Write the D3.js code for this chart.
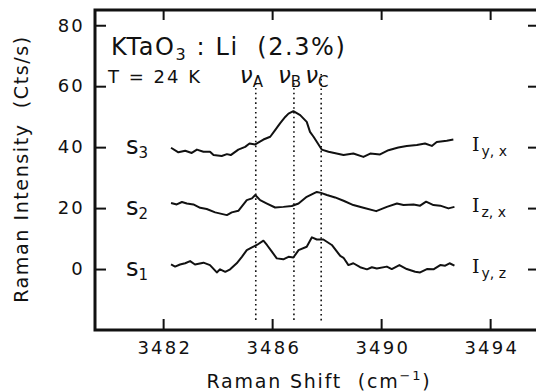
<!DOCTYPE html>
<html>
<head>
<meta charset="utf-8">
<script src="https://cdn.jsdelivr.net/npm/d3@7"></script>
<style>
  body { margin: 0; background: #fff; }
  svg text { font-family: 'DejaVu Sans', sans-serif; fill: #111; }
</style>
</head>
<body>
<div id="chart"></div>
<script>
// Raman shift (cm^-1) of each sample point
const s3Shift = [3482.29, 3482.56, 3482.81, 3483.05, 3483.24, 3483.48, 3483.72, 3483.85, 3484.15, 3484.34, 3484.48, 3484.76, 3485.01, 3485.17, 3485.38, 3485.68, 3485.93, 3486.11, 3486.29, 3486.48, 3486.6, 3486.78, 3487.03, 3487.27, 3487.39, 3487.52, 3487.82, 3488.07, 3488.62, 3488.98, 3489.35, 3489.6, 3489.96, 3490.27, 3490.63, 3490.94, 3491.31, 3491.61, 3491.86, 3492.04, 3492.41, 3492.65];
const s3Counts = [39.8, 38.3, 38.8, 38.1, 39.2, 38.5, 38.5, 37.4, 37.1, 37.7, 37.4, 39.2, 40.1, 41.2, 40.9, 42.5, 43.4, 45.6, 47.8, 49.9, 51.0, 51.8, 50.5, 48.3, 45.0, 43.4, 39.2, 38.5, 37.4, 37.9, 36.8, 37.9, 37.6, 39.0, 39.9, 40.4, 40.7, 41.2, 40.4, 41.7, 42.1, 42.5];

const s2Shift = [3482.29, 3482.5, 3482.69, 3482.87, 3483.11, 3483.36, 3483.6, 3483.91, 3484.34, 3484.52, 3484.76, 3485.07, 3485.26, 3485.38, 3485.56, 3485.81, 3486.11, 3486.41, 3486.72, 3486.97, 3487.27, 3487.64, 3487.79, 3488.01, 3488.31, 3488.62, 3488.98, 3489.35, 3489.82, 3490.21, 3490.58, 3490.82, 3491.19, 3491.43, 3491.65, 3491.92, 3492.17, 3492.47, 3492.69];
const s2Counts = [21.7, 21.2, 22.0, 21.5, 21.2, 20.1, 19.7, 18.6, 17.7, 18.6, 19.1, 22.6, 23.2, 24.3, 22.6, 21.5, 20.2, 20.4, 20.7, 21.5, 23.7, 25.3, 25.0, 24.3, 23.5, 22.4, 21.0, 20.1, 19.0, 20.4, 21.5, 21.0, 21.2, 20.8, 22.1, 21.0, 20.8, 19.9, 20.4];

const s1Shift = [3482.29, 3482.44, 3482.62, 3482.81, 3482.99, 3483.17, 3483.48, 3483.72, 3483.97, 3484.09, 3484.28, 3484.46, 3484.7, 3484.89, 3485.07, 3485.26, 3485.44, 3485.68, 3485.81, 3485.99, 3486.17, 3486.41, 3486.6, 3486.78, 3486.97, 3487.27, 3487.46, 3487.64, 3487.88, 3488.19, 3488.5, 3488.62, 3488.8, 3488.98, 3489.23, 3489.48, 3489.66, 3489.84, 3490.21, 3490.39, 3490.67, 3490.94, 3491.25, 3491.43, 3491.68, 3491.92, 3492.17, 3492.35, 3492.51, 3492.69];
const s1Counts = [1.5, 0.8, 1.5, 1.9, 2.6, 1.5, 2.1, 1.3, -1.1, -0.1, -0.9, -0.1, 1.9, 4.0, 6.2, 7.1, 7.9, 9.3, 7.9, 5.7, 3.5, 3.2, 4.0, 3.8, 6.2, 7.3, 10.4, 9.7, 9.7, 7.9, 4.3, 3.7, 1.3, 1.9, 0.6, -0.1, 0.6, 0.2, 0.8, 0.0, 1.3, 0.0, -0.9, -1.1, 0.0, -0.1, 1.3, 1.1, 1.9, 1.1];

const xTicks = [3482, 3486, 3490, 3494];
const yTicks = [0, 20, 40, 60, 80];

// mode positions (dotted markers) and where each dotted line starts
const modeNames = ['A', 'B', 'C'];
const modeShift = [3485.4, 3486.8, 3487.8];
const modeTop = [61, 61, 64];

const spectra = [
  { name: '1', pol: ['y', 'z'], shift: s1Shift, counts: s1Counts, level: 0 },
  { name: '2', pol: ['z', 'x'], shift: s2Shift, counts: s2Counts, level: 20 },
  { name: '3', pol: ['y', 'x'], shift: s3Shift, counts: s3Counts, level: 40 },
];

// Set up dimensions
const width = 536;
const height = 392;
const margin = { left: 95, top: 10, right: 540, bottom: 330 };

const svg = d3
  .select('#chart')
  .append('svg')
  .attr('width', width)
  .attr('height', height);

const x = d3.scaleLinear().domain([3479.5, 3495.83]).range([margin.left, margin.right]);
const y = d3.scaleLinear().domain([-20, 85]).range([margin.bottom, margin.top]);

/* Axes (ticks point inwards on all four sides)
=========================================================================*/
const tickStyle = (g) => {
  g.select('.domain').remove();
  g.selectAll('.tick line').attr('stroke', '#111').attr('stroke-width', 2);
  g.selectAll('.tick text').attr('font-size', 18).attr('letter-spacing', 2.2).attr('fill', '#111');
};

svg
  .append('g')
  .attr('transform', `translate(0,${margin.bottom})`)
  .call(d3.axisBottom(x).tickValues(xTicks).tickFormat(d3.format('d')).tickSize(-11).tickPadding(11))
  .call(tickStyle)
  .call((g) => g.selectAll('.tick text').attr('dx', 1.1));

svg
  .append('g')
  .attr('transform', `translate(0,${margin.top})`)
  .call(d3.axisTop(x).tickValues(xTicks).tickFormat('').tickSize(-10))
  .call(tickStyle);

svg
  .append('g')
  .attr('transform', `translate(${margin.left},0)`)
  .call(d3.axisLeft(y).tickValues(yTicks).tickSize(-11).tickPadding(10))
  .call(tickStyle);

svg
  .append('g')
  .attr('transform', `translate(${margin.right},0)`)
  .call(d3.axisRight(y).tickValues(yTicks).tickFormat('').tickSize(-12))
  .call(tickStyle);

svg
  .append('rect')
  .attr('x', margin.left)
  .attr('y', margin.top)
  .attr('width', margin.right - margin.left)
  .attr('height', margin.bottom - margin.top)
  .attr('fill', 'none')
  .attr('stroke', '#111')
  .attr('stroke-width', 3);

// axis titles
svg
  .append('text')
  .attr('x', 319)
  .attr('y', 388)
  .attr('text-anchor', 'middle')
  .attr('font-size', 19)
  .attr('letter-spacing', 1.8)
  .attr('xml:space', 'preserve')
  .call((t) => {
    t.append('tspan').text('Raman Shift  (cm');
    t.append('tspan').attr('font-size', 13).attr('dy', -8).text('−1');
    t.append('tspan').attr('dy', 8).text(')');
  });

svg
  .append('text')
  .attr('transform', 'translate(28,169) rotate(-90)')
  .attr('text-anchor', 'middle')
  .attr('font-size', 19)
  .attr('letter-spacing', 1.6)
  .attr('xml:space', 'preserve')
  .text('Raman Intensity  (Cts/s)');

/* Dotted mode markers
=========================================================================*/
svg
  .append('g')
  .selectAll('line')
  .data(modeShift)
  .join('line')
  .attr('x1', (d) => x(d))
  .attr('x2', (d) => x(d))
  .attr('y1', (d, i) => y(modeTop[i]))
  .attr('y2', y(-17))
  .attr('stroke', '#111')
  .attr('stroke-width', 1.6)
  .attr('stroke-dasharray', '1.6,3.2');

svg
  .append('g')
  .selectAll('text')
  .data(modeShift)
  .join('text')
  .attr('x', (d) => x(d) - 16)
  .attr('y', 83)
  .attr('font-size', 23)
  .call((t) => {
    t.append('tspan').attr('font-style', 'italic').text('ν');
    t.append('tspan')
      .attr('font-size', 15)
      .attr('dy', 4)
      .text((d, i) => modeNames[i]);
  });

/* Spectra
=========================================================================*/
const line = d3
  .line()
  .x((d) => x(d[0]))
  .y((d) => y(d[1]));

svg
  .append('g')
  .selectAll('path')
  .data(spectra)
  .join('path')
  .attr('d', (s) => line(d3.zip(s.shift, s.counts)))
  .attr('fill', 'none')
  .attr('stroke', '#111')
  .attr('stroke-width', 2)
  .attr('stroke-linejoin', 'round');

// s labels on the left
svg
  .append('g')
  .selectAll('text')
  .data(spectra)
  .join('text')
  .attr('x', 126)
  .attr('y', (s) => y(s.level) + 7)
  .attr('font-size', 24)
  .call((t) => {
    t.append('tspan').text('s');
    t.append('tspan')
      .attr('font-size', 15)
      .attr('dy', 4)
      .text((s) => s.name);
  });

// polarisation labels on the right
svg
  .append('g')
  .selectAll('text')
  .data(spectra)
  .join('text')
  .attr('x', 472)
  .attr('y', (s) => y(s.level) + 4)
  .call((t) => {
    t.append('tspan').attr('font-family', "'DejaVu Serif', serif").attr('font-size', 19).text('I');
    t.append('tspan')
      .attr('font-size', 14)
      .attr('dx', 2)
      .attr('dy', 5)
      .attr('xml:space', 'preserve')
      .text((s) => `${s.pol[0]}, ${s.pol[1]}`);
  });

/* Sample annotation
=========================================================================*/
svg
  .append('text')
  .attr('x', 111)
  .attr('y', 55)
  .attr('font-size', 24)
  .attr('letter-spacing', 1.6)
  .attr('xml:space', 'preserve')
  .call((t) => {
    t.append('tspan').text('KTaO');
    t.append('tspan').attr('font-size', 16).attr('dy', 5).text('3');
    t.append('tspan').attr('dy', -5).text(' : Li  (2.3%)');
  });

svg
  .append('text')
  .attr('x', 108)
  .attr('y', 83)
  .attr('font-size', 18)
  .attr('letter-spacing', 2)
  .attr('xml:space', 'preserve')
  .text('T = 24 K');
</script>
</body>
</html>
